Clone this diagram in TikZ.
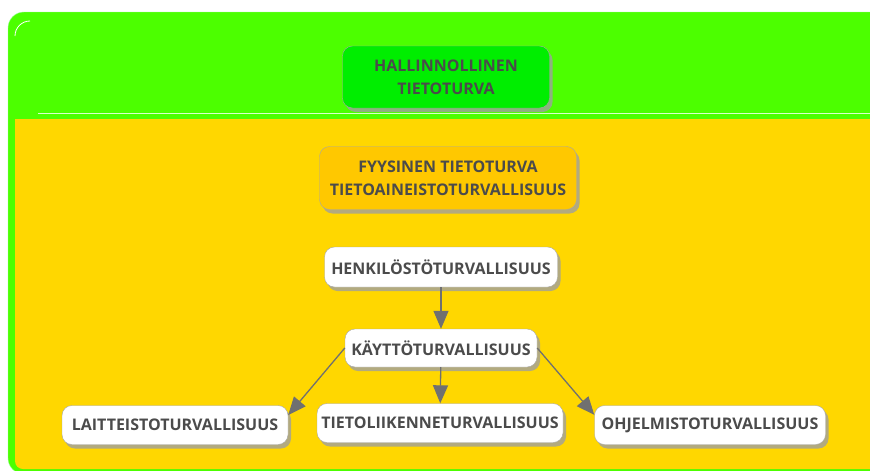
\documentclass[tikz,border=0pt]{standalone}
\usepackage{fontspec}
\setsansfont{Open Sans}
\usetikzlibrary{arrows.meta, positioning, shadows}
\definecolor{framegreen}{RGB}{76,255,0}
\definecolor{admingreen}{RGB}{0,238,0}
\definecolor{physorange}{RGB}{255,200,0}
\definecolor{bggold}{RGB}{255,215,0}
\definecolor{textgray}{RGB}{75,75,75}
\definecolor{linegray}{RGB}{112,112,112}

\begin{document}
\begin{tikzpicture}[x=1pt,y=-1pt,
    box/.style={draw=gray!70,rounded corners=10pt,align=center,fill=white,
                font=\sffamily\bfseries\fontsize{16}{23}\selectfont,text=textgray,
                inner sep=0pt,
                drop shadow={shadow xshift=3pt,shadow yshift=-4pt,fill=gray!75,opacity=.8}},
    arr/.style={-{Triangle[length=18pt,width=15pt]},linegray,line width=1.3pt}
]
  \useasboundingbox (0,0) rectangle (870,471);
  \clip (0,0) rectangle (870,471);

  % Background frames
  \draw[fill=framegreen,draw=green!40!white,rounded corners=16pt] (8,12) rectangle (920,474);
  \draw[white,line width=0.8pt] (15,36) arc[start angle=180,end angle=270,radius=15];
  \draw[white!80!framegreen,line width=1pt] (38,113) -- (870,113);
  \fill[bggold] (920,119) -- (15,119) [rounded corners=8pt] -- (15,469) -- (920,469) -- cycle;

  % Layers
  \node[box,fill=admingreen,minimum width=207pt,minimum height=62pt] (admin) at (446,77)
    {HALLINNOLLINEN\\TIETOTURVA};
  \node[box,fill=physorange,minimum width=257pt,minimum height=63pt] (phys) at (448,178)
    {FYYSINEN TIETOTURVA\\TIETOAINEISTOTURVALLISUUS};

  % Security areas
  \node[box,minimum width=233pt,minimum height=40pt] (henk) at (441,267) {HENKILÖSTÖTURVALLISUUS};
  \node[box,minimum width=192pt,minimum height=38pt] (kaytto) at (441,348) {KÄYTTÖTURVALLISUUS};
  \node[box,minimum width=226pt,minimum height=39pt] (laite) at (175,425) {LAITTEISTOTURVALLISUUS};
  \node[box,minimum width=246pt,minimum height=39pt] (tieto) at (440,423) {TIETOLIIKENNETURVALLISUUS};
  \node[box,minimum width=231pt,minimum height=39pt] (ohjelma) at (710,425) {OHJELMISTOTURVALLISUUS};

  % Arrows
  \draw[arr] (henk) -- (kaytto);
  \draw[arr] (kaytto) -- (tieto);
  \draw[arr] (kaytto.west) -- (laite.5);
  \draw[arr] (kaytto.east) -- (ohjelma.175);
\end{tikzpicture}
\end{document}
